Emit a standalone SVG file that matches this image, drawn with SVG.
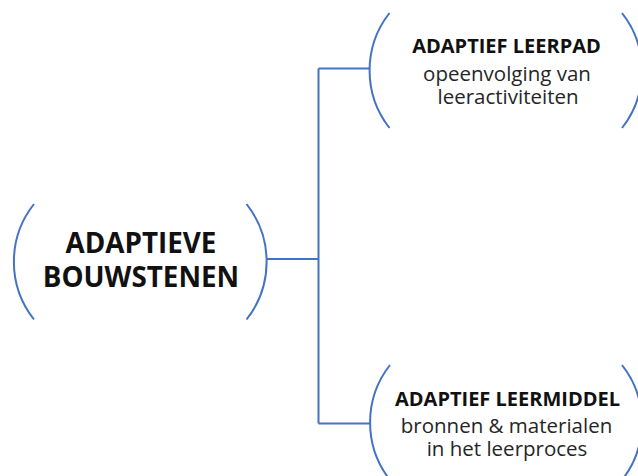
<svg xmlns="http://www.w3.org/2000/svg" width="638" height="476" viewBox="0 0 638 476">
  <style>
    .br { fill: none; stroke: #4472C4; stroke-width: 2; }
    .ln { fill: none; stroke: #4472C4; stroke-width: 2; }
    .t { font-family: "Open Sans", "Liberation Sans", sans-serif; fill: #111111; text-anchor: middle; }
    .b { font-weight: bold; }
    .big { font-size: 27.8px; }
    .hd { font-size: 20px; }
    .sm { font-size: 20.5px; fill: #262626; }
  </style>
  <rect width="638" height="476" fill="#ffffff"/>
  <g id="connectors">
    <path class="ln" d="M267 259 H318.5 M318.5 68.5 V423.5 M318.5 68.5 H370 M318.5 423.5 H370"/>
  </g>
  <g id="node-bouwstenen">
    <path class="br" d="M34 204 A93 93 0 0 0 34 319.5"/>
    <path class="br" d="M246.5 204 A93 93 0 0 1 246.5 319.5"/>
    <text class="t b big" x="141" y="253">ADAPTIEVE</text>
    <text class="t b big" x="141" y="287">BOUWSTENEN</text>
  </g>
  <g id="node-leerpad">
    <path class="br" d="M389.5 13 A93 93 0 0 0 389.5 128"/>
    <path class="br" d="M622 13 A93 93 0 0 1 622 128"/>
    <text class="t b hd" x="506.5" y="53">ADAPTIEF LEERPAD</text>
    <text class="t sm" x="507" y="80.5">opeenvolging van</text>
    <text class="t sm" x="508" y="104">leeractiviteiten</text>
  </g>
  <g id="node-leermiddel">
    <path class="br" d="M390 365 A93 93 0 0 0 390 480"/>
    <path class="br" d="M622 365 A93 93 0 0 1 622 480"/>
    <text class="t b hd" x="507.5" y="405.5">ADAPTIEF LEERMIDDEL</text>
    <text class="t sm" x="506.5" y="433">bronnen &amp; materialen</text>
    <text class="t sm" x="507" y="456">in het leerproces</text>
  </g>
</svg>
